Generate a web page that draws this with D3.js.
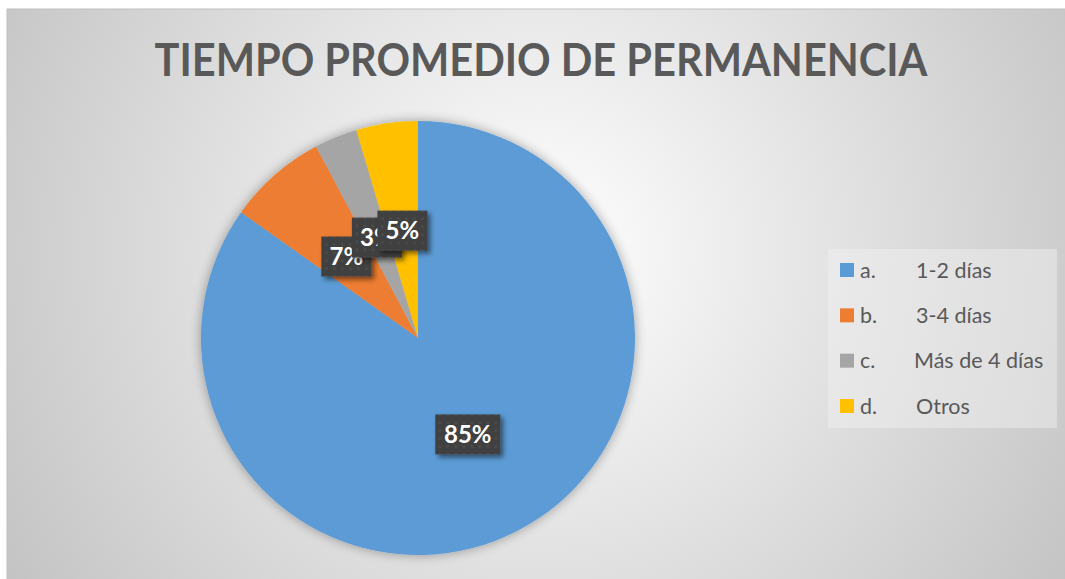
<!DOCTYPE html>
<html>
<head>
<meta charset="utf-8">
<script src="https://cdn.jsdelivr.net/npm/d3@7"></script>
<style>
  html, body { margin: 0; padding: 0; background: #fff; }
  svg { display: block; }
</style>
</head>
<body>
<div id="chart"></div>
<script>
// datos del gráfico
const categories = ['a.', 'b.', 'c.', 'd.'];
const categoryNames = ['1-2 días', '3-4 días', 'Más de 4 días', 'Otros'];
const values = [85, 7.4, 3.2, 4.6];
const colors = ['#5b9bd5', '#ed7d31', '#a5a5a5', '#ffc000'];
const title = 'TIEMPO PROMEDIO DE PERMANENCIA';

const width = 1065;
const height = 579;
const frame = { left: 7, top: 9 };
const center = { x: 418, y: 338 };
const radius = 217;

const svg = d3.select('#chart')
    .append('svg')
    .attr('width', width)
    .attr('height', height);

const defs = svg.append('defs');

// fondo degradado
const grad = defs.append('radialGradient')
    .attr('id', 'bg')
    .attr('gradientUnits', 'userSpaceOnUse')
    .attr('cx', 540).attr('cy', 250).attr('r', 620);
grad.append('stop').attr('offset', '0%').attr('stop-color', '#ffffff');
grad.append('stop').attr('offset', '100%').attr('stop-color', '#c4c4c4');

const shadow = defs.append('filter').attr('id', 'pieShadow')
    .attr('x', '-20%').attr('y', '-20%').attr('width', '140%').attr('height', '140%');
shadow.append('feGaussianBlur').attr('in', 'SourceAlpha').attr('stdDeviation', 6);
shadow.append('feOffset').attr('dx', 0).attr('dy', 0).attr('result', 'b');
shadow.append('feComponentTransfer').append('feFuncA').attr('type', 'linear').attr('slope', 0.35);
const m1 = shadow.append('feMerge');
m1.append('feMergeNode');
m1.append('feMergeNode').attr('in', 'SourceGraphic');

const boxShadow = defs.append('filter').attr('id', 'boxShadow')
    .attr('x', '-30%').attr('y', '-30%').attr('width', '170%').attr('height', '170%');
boxShadow.append('feGaussianBlur').attr('in', 'SourceAlpha').attr('stdDeviation', 2.5);
boxShadow.append('feOffset').attr('dx', 3).attr('dy', 3);
boxShadow.append('feComponentTransfer').append('feFuncA').attr('type', 'linear').attr('slope', 0.5);
const m2 = boxShadow.append('feMerge');
m2.append('feMergeNode');
m2.append('feMergeNode').attr('in', 'SourceGraphic');

const dots = defs.append('pattern').attr('id', 'dots')
    .attr('patternUnits', 'userSpaceOnUse')
    .attr('width', 8).attr('height', 8);
dots.append('rect').attr('width', 8).attr('height', 8).attr('fill', '#404040');
dots.append('circle').attr('cx', 4).attr('cy', 4).attr('r', 1.6).attr('fill', '#4c4c4c');

svg.append('rect')
    .attr('x', frame.left).attr('y', frame.top)
    .attr('width', width - frame.left + 2).attr('height', height - frame.top + 2)
    .attr('fill', 'url(#bg)')
    .attr('stroke', '#bfbfbf')
    .attr('stroke-width', 1);

svg.append('text')
    .attr('x', 541)
    .attr('y', 76)
    .attr('text-anchor', 'middle')
    .attr('font-family', 'Lato, "Open Sans", sans-serif')
    .attr('font-weight', 'bold')
    .attr('font-size', 45)
    .attr('fill', '#595959')
    .attr('textLength', 773)
    .attr('lengthAdjust', 'spacingAndGlyphs')
    .text(title);

const pie = d3.pie().sort(null).value(d => d);
const arcs = pie(values);
const arc = d3.arc().innerRadius(0).outerRadius(radius);
const labelArc = d3.arc().innerRadius(radius * 0.5).outerRadius(radius * 0.5);
const total = d3.sum(values);

const g = svg.append('g')
    .attr('transform', 'translate(' + center.x + ',' + center.y + ')');

g.append('g')
    .attr('filter', 'url(#pieShadow)')
    .selectAll('path')
    .data(arcs)
    .enter()
    .append('path')
    .attr('d', arc)
    .attr('fill', (d, i) => colors[i]);

const labels = g.selectAll('g.label')
    .data(arcs)
    .enter()
    .append('g')
    .attr('class', 'label')
    .attr('transform', d => 'translate(' + labelArc.centroid(d) + ')');

labels.each(function(d) {
    const txt = Math.round(d.value / total * 100) + '%';
    const w = txt.length > 2 ? 65 : 50;
    const sel = d3.select(this);
    sel.append('rect')
        .attr('x', -w / 2).attr('y', -20)
        .attr('width', w).attr('height', 40)
        .attr('fill', 'url(#dots)')
        .attr('filter', 'url(#boxShadow)');
    sel.append('text')
        .attr('text-anchor', 'middle')
        .attr('dy', '0.36em')
        .attr('font-family', 'Lato, "Open Sans", sans-serif')
        .attr('font-weight', 'bold')
        .attr('font-size', 24)
        .attr('fill', '#ffffff')
        .text(txt);
});

// leyenda
const legend = svg.append('g');
legend.append('rect')
    .attr('x', 828).attr('y', 249)
    .attr('width', 229).attr('height', 179)
    .attr('fill', '#f2f2f2')
    .attr('fill-opacity', 0.45);

const rowY = d3.scalePoint()
    .domain(categories)
    .range([270, 406]);

const item = legend.selectAll('g.item')
    .data(categories)
    .enter()
    .append('g')
    .attr('class', 'item')
    .attr('transform', d => 'translate(0,' + rowY(d) + ')');

item.append('rect')
    .attr('x', 840).attr('y', -7)
    .attr('width', 14).attr('height', 14)
    .attr('fill', (d, i) => colors[i]);

item.append('text')
    .attr('x', 860)
    .attr('dy', '0.36em')
    .attr('font-family', 'Lato, "Open Sans", sans-serif')
    .attr('font-size', 21.5)
    .attr('fill', '#595959')
    .text(d => d);

item.append('text')
    .attr('x', (d, i) => i === 2 ? 914 : 916)
    .attr('dy', '0.36em')
    .attr('font-family', 'Lato, "Open Sans", sans-serif')
    .attr('font-size', 21.5)
    .attr('fill', '#595959')
    .text((d, i) => categoryNames[i]);
</script>
</body>
</html>
